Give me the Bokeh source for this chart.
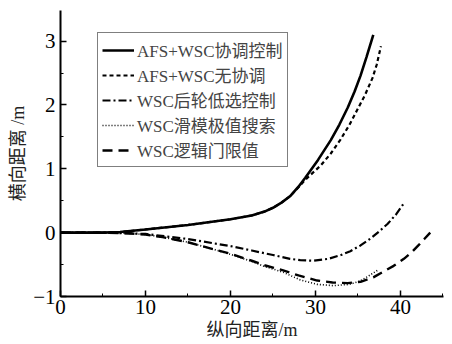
from bokeh.plotting import figure
from bokeh.models import Range1d, SingleIntervalTicker, Legend, LegendItem
from bokeh.embed import file_html
from bokeh.resources import INLINE

# --- data ---
x_coord = [0, 5, 7, 10, 15, 20, 22.5, 24, 25, 26, 27, 28, 28.8, 30.3, 31.8, 32.8, 33.8, 34.6, 35.3, 36, 36.8]
y_coord = [0, 0, 0.01, 0.05, 0.12, 0.21, 0.27, 0.33, 0.39, 0.47, 0.57, 0.72, 0.86, 1.14, 1.45, 1.69, 1.96, 2.21, 2.46, 2.75, 3.1]

x_nocoord = [0, 5, 7, 10, 15, 20, 22.5, 24, 25, 26, 27, 28, 28.8, 30.6, 31.8, 32.9, 34, 34.9, 35.8, 36.7, 37.2, 37.7]
y_nocoord = [0, 0, 0.01, 0.05, 0.12, 0.21, 0.27, 0.33, 0.39, 0.47, 0.57, 0.71, 0.83, 1.05, 1.24, 1.45, 1.69, 1.92, 2.15, 2.42, 2.63, 2.92]

x_rear = [0, 5, 8, 10, 15, 20, 22.5, 25, 27, 28.2, 29.8, 31.5, 33, 34.1, 35.3, 36.5, 37.5, 38.5, 39.5, 40.5]
y_rear = [0, 0, -0.01, -0.02, -0.1, -0.21, -0.28, -0.35, -0.41, -0.43, -0.44, -0.41, -0.35, -0.29, -0.2, -0.09, 0.02, 0.14, 0.29, 0.48]

x_smc = [0, 5, 8, 10, 12, 15, 18, 20, 22.5, 24, 26.2, 28.2, 30.2, 32.1, 34, 35.2, 36.1, 37.3]
y_smc = [0, 0, -0.01, -0.03, -0.07, -0.15, -0.26, -0.34, -0.45, -0.53, -0.62, -0.74, -0.81, -0.83, -0.81, -0.76, -0.69, -0.59]

x_logic = [0, 5, 8, 10, 12, 15, 18, 20, 22.5, 24, 26.2, 28, 30.2, 32, 33.8, 35.3, 36.8, 38, 39.2, 40.4, 41.3, 42.1, 42.8, 43.5]
y_logic = [0, 0, -0.01, -0.03, -0.07, -0.15, -0.26, -0.33, -0.44, -0.51, -0.59, -0.67, -0.75, -0.78, -0.79, -0.77, -0.70, -0.61, -0.52, -0.41, -0.31, -0.2, -0.1, 0.0]

labels = ["AFS+WSC协调控制", "AFS+WSC无协调", "WSC后轮低选控制", "WSC滑模极值搜索", "WSC逻辑门限值"]
x_label = "纵向距离/m"
y_label = "横向距离 /m"

serif = "Liberation Serif"
cjk = "Liberation Serif, Noto Sans CJK SC"

p = figure(width=452, height=344, output_backend="svg", toolbar_location=None,
           x_range=Range1d(0, 45.06), y_range=Range1d(-1, 3.48),
           min_border_left=60, min_border_right=9, min_border_top=10, min_border_bottom=48)
p.outline_line_color = None
p.grid.visible = False
p.background_fill_color = "white"

r1 = p.line(x_coord, y_coord, line_color="black", line_width=2.6)
r2 = p.line(x_nocoord, y_nocoord, line_color="black", line_width=2.2, line_dash="4 3")
r3 = p.line(x_rear, y_rear, line_color="black", line_width=2.2, line_dash="8 3 2 3")
r4 = p.line(x_smc, y_smc, line_color="black", line_width=1.6, line_dash="1 2")
r5 = p.line(x_logic, y_logic, line_color="black", line_width=2.4, line_dash="10 6")

p.xaxis.ticker = SingleIntervalTicker(interval=10, num_minor_ticks=2)
p.yaxis.ticker = SingleIntervalTicker(interval=1, num_minor_ticks=2)
for ax in (p.xaxis, p.yaxis):
    ax.axis_line_width = 2
    ax.axis_line_color = "black"
    ax.major_tick_in = 6
    ax.major_tick_out = 0
    ax.minor_tick_in = 3
    ax.minor_tick_out = 0
    ax.major_tick_line_width = 1.5
    ax.major_label_text_font = serif
    ax.major_label_text_font_size = "21px"
    ax.major_label_text_color = "black"
    ax.axis_label_text_font = cjk
    ax.axis_label_text_font_size = "18px"
    ax.axis_label_text_font_style = "normal"
    ax.axis_label_text_color = "#222222"

p.xaxis.major_label_standoff = 3
p.yaxis.major_label_standoff = 5
p.xaxis.axis_label = x_label
p.yaxis.axis_label = y_label
p.xaxis.axis_label_standoff = 3
p.yaxis.axis_label_standoff = 2

legend = Legend(items=[LegendItem(label=l, renderers=[r]) for l, r in zip(labels, [r1, r2, r3, r4, r5])],
                location=(37, 129))
legend.label_text_font = cjk
legend.label_text_font_size = "17px"
legend.glyph_width = 32
legend.glyph_height = 24
legend.label_height = 24
legend.spacing = 0
legend.padding = 4
legend.margin = 0
legend.label_standoff = 3
legend.border_line_color = "black"
legend.border_line_width = 1.5
legend.background_fill_alpha = 1
p.add_layout(legend, "center")

open("out.html", "w").write(file_html(p, INLINE))
